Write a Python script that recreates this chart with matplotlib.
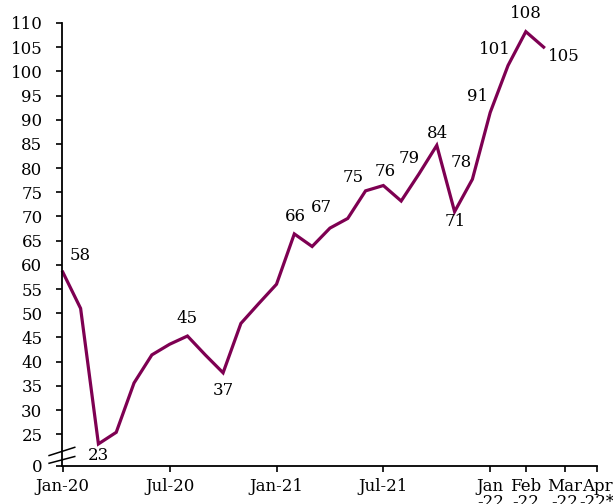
import matplotlib
matplotlib.use('Agg')
import matplotlib.pyplot as plt
import matplotlib.transforms as mtransforms

plt.rcParams['font.family'] = ['DejaVu Serif']

# 数据
values = [58.5, 51.0, 23.0, 25.4, 35.6, 41.4, 43.6, 45.3, 41.4, 37.7,
          47.9, 52.0, 56.0, 66.4, 63.8, 67.6, 69.6, 75.3, 76.4, 73.2,
          78.8, 84.7, 71.0, 77.7, 91.5, 101.2, 108.2, 105.0]
months = list(range(len(values)))

# 数据标签 (索引, 文本, 偏移像素)
label_idx = [0, 2, 7, 9, 13, 15, 17, 18, 20, 21, 22, 23, 24, 25, 26, 27]
label_txt = ['58', '23', '45', '37', '66', '67', '75', '76', '79', '84',
             '71', '78', '91', '101', '108', '105']
label_off = [(17, 17), (0, -12), (0, 18), (0, -18), (1, 17), (-8, 21),
             (-12, 13), (2, 14), (-10, 15), (1, 12), (1, -10), (-11, 17),
             (-13, 16), (-13, 16), (0, 18), (20, -9)]

tick_pos = [0, 6, 12, 18, 24, 26, 28.2, 30]
tick_lab = ['Jan-20', 'Jul-20', 'Jan-21', 'Jul-21', 'Jan\n-22', 'Feb\n-22',
            'Mar\n-22', 'Apr\n-22*']

y_bottom = 18.45
y_ticks = [y_bottom] + list(range(25, 111, 5))
y_labels = ['0'] + [str(v) for v in range(25, 111, 5)]

color = '#7e0052'

fig = plt.figure(figsize=(6.13, 5.04), dpi=100)
ax = fig.add_axes([0.101, 0.0755, 0.873, 0.879])

ax.plot(months, values, color=color, linewidth=2.3, solid_joinstyle='miter',
        clip_on=False)

for i, t, (dx, dy) in zip(label_idx, label_txt, label_off):
    ax.annotate(t, (months[i], values[i]), xytext=(dx * 0.72, dy * 0.72),
                textcoords='offset points', ha='center', va='center',
                fontsize=12, color='black')

ax.set_xlim(-0.05, 30)
ax.set_ylim(y_bottom, 110)
ax.set_xticks(tick_pos)
ax.set_xticklabels(tick_lab, fontsize=12, linespacing=0.9)
ax.set_yticks(y_ticks)
ax.set_yticklabels(y_labels, fontsize=12)

for s in ['top', 'right']:
    ax.spines[s].set_visible(False)
for s in ['left', 'bottom']:
    ax.spines[s].set_linewidth(1.3)
ax.tick_params(axis='both', direction='out', length=4, width=1.2)
ax.tick_params(axis='x', pad=5)
ax.tick_params(axis='y', pad=10)

# 轴断裂标记
trans = mtransforms.blended_transform_factory(ax.transAxes, ax.transData)
ax.plot([-0.024, 0.024], [20.6, 22.3], color='black', lw=1.1,
        transform=trans, clip_on=False)
ax.plot([-0.024, 0.024], [19.0, 20.4], color='black', lw=1.1,
        transform=trans, clip_on=False)

fig.savefig('out.png', dpi=100, facecolor='white')
